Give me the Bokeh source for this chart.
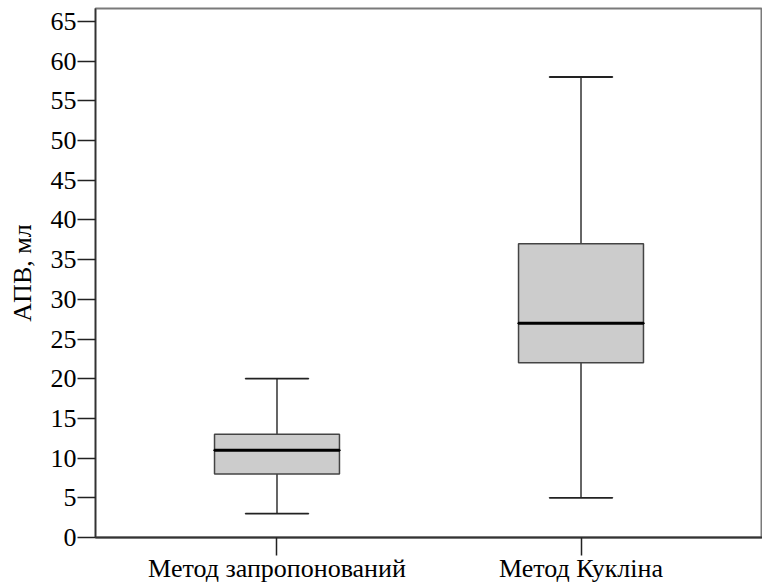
from bokeh.plotting import figure
from bokeh.models import FactorRange, Range1d, FixedTicker
from bokeh.embed import file_html
from bokeh.resources import INLINE

# ---- data ----
categories = ["Метод запропонований", "Метод Кукліна"]
lower_whisker = [3, 5]
q1 = [8, 22]
median = [11, 27]
q3 = [13, 37]
upper_whisker = [20, 58]
y_ticks = list(range(0, 70, 5))
y_label = "АПВ, мл"

FONT = "serif"
FS = "26px"

p = figure(
    x_range=FactorRange(*categories, range_padding=0.097),
    y_range=Range1d(0, 66.63),
    width=762, height=585,
    output_backend="svg", toolbar_location=None,
    min_border_left=95, min_border_right=0, min_border_top=8, min_border_bottom=47,
)
p.background_fill_color = "white"
p.border_fill_color = "white"
p.xgrid.visible = False
p.ygrid.visible = False
p.outline_line_color = "#7a7a7a"
p.outline_line_width = 2

box_w = 0.411
cap_w = 0.207

# whiskers
p.segment(x0=categories, y0=q3, x1=categories, y1=upper_whisker, line_color="#333333", line_width=1.5)
p.segment(x0=categories, y0=lower_whisker, x1=categories, y1=q1, line_color="#333333", line_width=1.5)
# caps
p.rect(x=categories, y=upper_whisker, width=cap_w, height=0.0001, fill_alpha=0,
       line_color="#222222", line_width=1.8)
p.rect(x=categories, y=lower_whisker, width=cap_w, height=0.0001, fill_alpha=0,
       line_color="#222222", line_width=1.8)
# boxes
p.vbar(x=categories, width=box_w, bottom=q1, top=q3, fill_color="#cccccc",
       line_color="#444444", line_width=1.5)
# medians
p.rect(x=categories, y=median, width=box_w, height=0.0001, fill_alpha=0,
       line_color="#000000", line_width=3)

# y axis
p.yaxis.ticker = FixedTicker(ticks=y_ticks)
p.yaxis.axis_label = y_label
p.yaxis.axis_label_text_font = FONT
p.yaxis.axis_label_text_font_size = FS
p.yaxis.axis_label_text_font_style = "normal"
p.yaxis.axis_label_text_color = "black"
p.yaxis.axis_label_standoff = 11
p.yaxis.major_label_text_font = FONT
p.yaxis.major_label_text_font_size = FS
p.yaxis.major_label_text_color = "black"
p.yaxis.major_label_standoff = 1
p.yaxis.major_tick_out = 18
p.yaxis.major_tick_in = 0
p.yaxis.minor_tick_line_color = None
p.yaxis.axis_line_color = "#333333"
p.yaxis.axis_line_width = 1.5
p.yaxis.major_tick_line_color = "#222222"
p.yaxis.major_tick_line_width = 1.5

# x axis
p.xaxis.major_label_text_font = FONT
p.xaxis.major_label_text_font_size = FS
p.xaxis.major_label_text_color = "black"
p.xaxis.major_label_standoff = -2
p.xaxis.major_tick_out = 18
p.xaxis.major_tick_in = 0
p.xaxis.minor_tick_line_color = None
p.xaxis.axis_line_color = "#333333"
p.xaxis.axis_line_width = 2
p.xaxis.major_tick_line_color = "#222222"
p.xaxis.major_tick_line_width = 1.5

open("out.html", "w").write(file_html(p, INLINE))
